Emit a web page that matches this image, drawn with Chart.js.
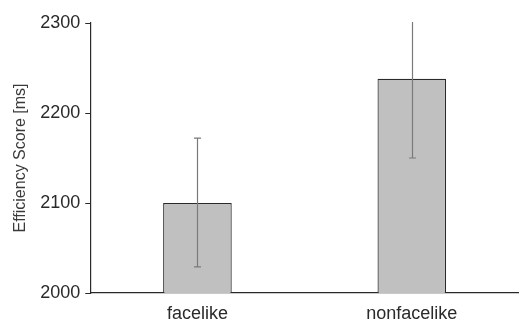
<!DOCTYPE html>
<html>
<head>
<meta charset="utf-8">
<script src="https://cdn.jsdelivr.net/npm/chart.js@4"></script>
<style>
  html, body { margin: 0; padding: 0; background: #fff; }
  #wrap { width: 519px; height: 322px; }
</style>
</head>
<body>
<div id="wrap"><canvas id="effChart"></canvas></div>
<script>
// values
var categories = ["facelike", "nonfacelike"];
var means = [2100, 2238];
var errLow = [2029, 2150];
var errHigh = [2172, 2326];
var yTicks = [2000, 2100, 2200, 2300];

// simple whisker plugin, drawn through the y scale
var errorBars = {
    id: 'errorBars',
    afterDatasetsDraw: function (chart) {
        var ctx = chart.ctx;
        var y = chart.scales.y;
        var meta = chart.getDatasetMeta(0);
        var area = chart.chartArea;
        ctx.save();
        ctx.beginPath();
        ctx.rect(area.left, area.top - 1, area.right - area.left, area.bottom - area.top + 1);
        ctx.clip();
        ctx.strokeStyle = "#7a7a7a";
        ctx.lineWidth = 1.2;
        meta.data.forEach(function (bar, i) {
            var x = Math.round(bar.x) + 0.5;
            var top = y.getPixelForValue(errHigh[i]);
            var bot = y.getPixelForValue(errLow[i]);
            ctx.beginPath();
            ctx.moveTo(x, top);
            ctx.lineTo(x, bot);
            ctx.moveTo(x - 3.5, top);
            ctx.lineTo(x + 3.5, top);
            ctx.moveTo(x - 3.5, bot);
            ctx.lineTo(x + 3.5, bot);
            ctx.stroke();
        });
        ctx.restore();
    }
};

var effChart = new Chart(document.getElementById("effChart"), {
    type: 'bar',
    data: {
        labels: categories,
        datasets: [{
            label: "Efficiency Score",
            data: means,
            backgroundColor: "#c0c0c0",
            borderColor: "#2a2a2a",
            borderWidth: 1.2,
            barPercentage: 0.32,
            categoryPercentage: 1.0
        }]
    },
    options: {
        responsive: true,
        maintainAspectRatio: false,
        animation: false,
        layout: { padding: { top: 23, right: 0, bottom: -14, left: 11 } },
        plugins: {
            legend: { display: false },
            tooltip: { enabled: false }
        },
        scales: {
            x: {
                grid: { display: false, drawTicks: false },
                border: { display: true, color: "#2a2a2a", width: 1.2 },
                ticks: {
                    color: "#2a2a2a",
                    font: { family: "Liberation Sans, Arial", size: 18, lineHeight: 1 },
                    padding: 12.5
                }
            },
            y: {
                min: 2000,
                max: 2300,
                afterBuildTicks: function (axis) {
                    axis.ticks = yTicks.map(function (v) { return { value: v }; });
                },
                grid: {
                    drawOnChartArea: false,
                    drawTicks: true,
                    tickLength: 5,
                    color: "#2a2a2a"
                },
                border: { display: true, color: "#2a2a2a", width: 1.2 },
                ticks: {
                    color: "#2a2a2a",
                    font: { family: "Liberation Sans, Arial", size: 18 },
                    padding: 5,
                    callback: function (v) { return String(v); }
                },
                title: {
                    display: true,
                    text: "Efficiency Score [ms]",
                    color: "#3a3a3a",
                    font: { family: "Liberation Sans, Arial", size: 16 },
                    padding: { top: 0, bottom: 5 }
                }
            }
        }
    },
    plugins: [errorBars]
});
</script>
</body>
</html>
